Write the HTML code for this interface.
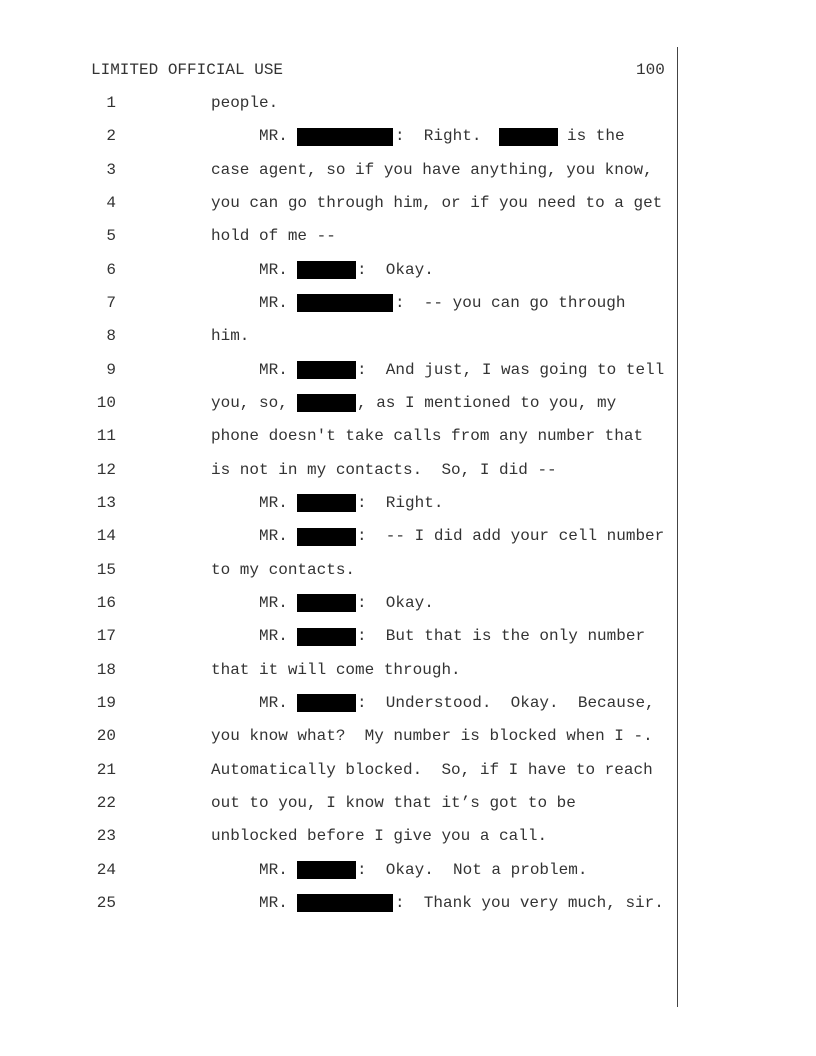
<!DOCTYPE html>
<html><head><meta charset="utf-8"><style>
body{margin:0;background:#fff;}
#p{position:relative;width:816px;height:1056px;overflow:hidden;font-family:"Liberation Mono","Courier New",monospace;font-size:16px;color:#333;}
.t{position:absolute;line-height:20px;white-space:pre;}
.b{position:absolute;background:#000;height:18px;}
.n{position:absolute;width:40px;text-align:right;left:76px;line-height:20px;}
#v{position:absolute;left:677px;top:47px;width:1px;height:960px;background:#444;}
</style></head><body><div id="p">
<div id="v"></div>
<div class="t" style="left:91px;top:60px">LIMITED OFFICIAL USE</div>
<div class="t" style="left:636px;top:60px">100</div>

<div class="n" style="top:93px">1</div><div class="t" style="left:211px;top:93px">people.</div>

<div class="n" style="top:126px">2</div><div class="t" style="left:259px;top:126px">MR.</div><div class="b" style="left:297px;top:128px;width:96px"></div><div class="t" style="left:395px;top:126px">:  Right.</div><div class="b" style="left:499px;top:128px;width:59px"></div><div class="t" style="left:567px;top:126px">is the</div>

<div class="n" style="top:160px">3</div><div class="t" style="left:211px;top:160px">case agent, so if you have anything, you know,</div>
<div class="n" style="top:193px">4</div><div class="t" style="left:211px;top:193px">you can go through him, or if you need to a get</div>
<div class="n" style="top:226px">5</div><div class="t" style="left:211px;top:226px">hold of me --</div>

<div class="n" style="top:260px">6</div><div class="t" style="left:259px;top:260px">MR.</div><div class="b" style="left:297px;top:261px;width:59px"></div><div class="t" style="left:357px;top:260px">:  Okay.</div>

<div class="n" style="top:293px">7</div><div class="t" style="left:259px;top:293px">MR.</div><div class="b" style="left:297px;top:294px;width:96px"></div><div class="t" style="left:395px;top:293px">:  -- you can go through</div>

<div class="n" style="top:326px">8</div><div class="t" style="left:211px;top:326px">him.</div>

<div class="n" style="top:360px">9</div><div class="t" style="left:259px;top:360px">MR.</div><div class="b" style="left:297px;top:361px;width:59px"></div><div class="t" style="left:357px;top:360px">:  And just, I was going to tell</div>

<div class="n" style="top:393px">10</div><div class="t" style="left:211px;top:393px">you, so,</div><div class="b" style="left:297px;top:394px;width:59px"></div><div class="t" style="left:357px;top:393px">, as I mentioned to you, my</div>

<div class="n" style="top:426px">11</div><div class="t" style="left:211px;top:426px">phone doesn't take calls from any number that</div>
<div class="n" style="top:460px">12</div><div class="t" style="left:211px;top:460px">is not in my contacts.  So, I did --</div>

<div class="n" style="top:493px">13</div><div class="t" style="left:259px;top:493px">MR.</div><div class="b" style="left:297px;top:494px;width:59px"></div><div class="t" style="left:357px;top:493px">:  Right.</div>

<div class="n" style="top:526px">14</div><div class="t" style="left:259px;top:526px">MR.</div><div class="b" style="left:297px;top:528px;width:59px"></div><div class="t" style="left:357px;top:526px">:  -- I did add your cell number</div>

<div class="n" style="top:560px">15</div><div class="t" style="left:211px;top:560px">to my contacts.</div>

<div class="n" style="top:593px">16</div><div class="t" style="left:259px;top:593px">MR.</div><div class="b" style="left:297px;top:594px;width:59px"></div><div class="t" style="left:357px;top:593px">:  Okay.</div>

<div class="n" style="top:626px">17</div><div class="t" style="left:259px;top:626px">MR.</div><div class="b" style="left:297px;top:628px;width:59px"></div><div class="t" style="left:357px;top:626px">:  But that is the only number</div>

<div class="n" style="top:660px">18</div><div class="t" style="left:211px;top:660px">that it will come through.</div>

<div class="n" style="top:693px">19</div><div class="t" style="left:259px;top:693px">MR.</div><div class="b" style="left:297px;top:694px;width:59px"></div><div class="t" style="left:357px;top:693px">:  Understood.  Okay.  Because,</div>

<div class="n" style="top:726px">20</div><div class="t" style="left:211px;top:726px">you know what?  My number is blocked when I -.</div>
<div class="n" style="top:760px">21</div><div class="t" style="left:211px;top:760px">Automatically blocked.  So, if I have to reach</div>
<div class="n" style="top:793px">22</div><div class="t" style="left:211px;top:793px">out to you, I know that it’s got to be</div>
<div class="n" style="top:826px">23</div><div class="t" style="left:211px;top:826px">unblocked before I give you a call.</div>

<div class="n" style="top:860px">24</div><div class="t" style="left:259px;top:860px">MR.</div><div class="b" style="left:297px;top:861px;width:59px"></div><div class="t" style="left:357px;top:860px">:  Okay.  Not a problem.</div>

<div class="n" style="top:893px">25</div><div class="t" style="left:259px;top:893px">MR.</div><div class="b" style="left:297px;top:894px;width:96px"></div><div class="t" style="left:395px;top:893px">:  Thank you very much, sir.</div>
</div></body></html>
